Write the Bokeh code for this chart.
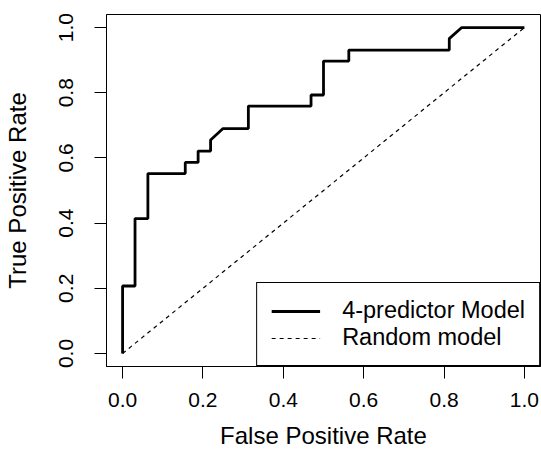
from bokeh.plotting import figure
from bokeh.models import FixedTicker, NumeralTickFormatter, Range1d
from bokeh.embed import file_html
from bokeh.resources import INLINE

# ROC curve data
fpr = [0.0, 0.0, 0.031, 0.031, 0.063, 0.063, 0.156, 0.156, 0.188, 0.188, 0.219, 0.219,
       0.25, 0.313, 0.313, 0.469, 0.469, 0.5, 0.5, 0.563, 0.563, 0.813, 0.813, 0.844, 1.0]
tpr = [0.0, 0.207, 0.207, 0.414, 0.414, 0.552, 0.552, 0.586, 0.586, 0.621, 0.621, 0.655,
       0.690, 0.690, 0.759, 0.759, 0.793, 0.793, 0.897, 0.897, 0.931, 0.931, 0.966, 1.0, 1.0]
rand_x = [0.0, 1.0]
rand_y = [0.0, 1.0]
ticks = [0.0, 0.2, 0.4, 0.6, 0.8, 1.0]

FONT = "Liberation Sans"

p = figure(width=541, height=451, output_backend="svg", toolbar_location=None,
           x_range=Range1d(-0.04, 1.04), y_range=Range1d(-0.04, 1.04),
           min_border_left=106, min_border_right=1, min_border_top=14, min_border_bottom=85)
p.xgrid.visible = False
p.ygrid.visible = False
p.outline_line_color = "black"
p.outline_line_width = 1
p.background_fill_color = "white"
p.border_fill_color = "white"

p.line(fpr, tpr, line_color="black", line_width=2.8, legend_label="4-predictor Model")
p.line(rand_x, rand_y, line_color="black", line_width=1.2, line_dash="4 4",
       legend_label="Random model")

for ax in (p.xaxis[0], p.yaxis[0]):
    ax.ticker = FixedTicker(ticks=ticks)
    ax.formatter = NumeralTickFormatter(format="0.0")
    ax.major_tick_out = 12
    ax.major_tick_in = 0
    ax.minor_tick_out = 0
    ax.minor_tick_in = 0
    ax.axis_line_color = "black"
    ax.major_tick_line_color = "black"
    ax.major_label_text_font = FONT
    ax.major_label_text_font_size = "21px"
    ax.major_label_text_color = "black"
    ax.axis_label_text_font = FONT
    ax.axis_label_text_font_size = "24px"
    ax.axis_label_text_font_style = "normal"
    ax.axis_label_text_color = "black"

p.xaxis[0].axis_label = "False Positive Rate"
p.xaxis[0].major_label_standoff = 14
p.xaxis[0].axis_label_standoff = 12
p.yaxis[0].axis_label = "True Positive Rate"
p.yaxis[0].major_label_orientation = "vertical"
p.yaxis[0].major_label_standoff = 21
p.yaxis[0].axis_label_standoff = 26

lg = p.legend[0]
lg.location = "bottom_right"
lg.margin = 0
lg.padding = 14
lg.spacing = -3
lg.border_line_color = "black"
lg.border_line_width = 1
lg.border_line_alpha = 1
lg.background_fill_color = "white"
lg.background_fill_alpha = 1
lg.label_text_font = FONT
lg.label_text_font_size = "23.5px"
lg.label_text_color = "black"
lg.glyph_width = 49
lg.glyph_height = 26
lg.label_height = 26
lg.label_standoff = 22

open("out.html", "w").write(file_html(p, INLINE))
